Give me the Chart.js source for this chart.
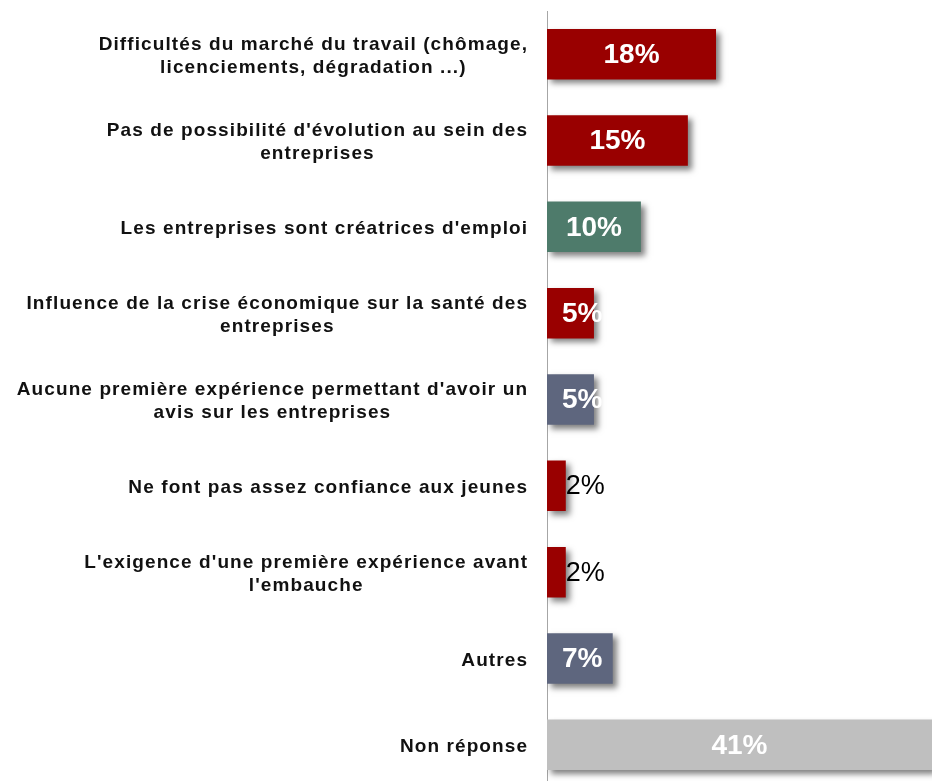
<!DOCTYPE html>
<html>
<head>
<meta charset="utf-8">
<script src="https://cdn.jsdelivr.net/npm/chart.js@4"></script>
<style>
  html, body { margin: 0; padding: 0; background: #fff; overflow: hidden; }
  #wrap { position: relative; width: 932px; height: 788px; }
</style>
</head>
<body>
<div id="wrap"><canvas id="reasonschart"></canvas></div>
<script>
const categories = [
  ["Difficultés du marché du travail (chômage,", "licenciements, dégradation ...)"],
  ["Pas de possibilité d'évolution au sein des", "entreprises"],
  ["Les entreprises sont créatrices d'emploi"],
  ["Influence de la crise économique sur la santé des", "entreprises"],
  ["Aucune première expérience permettant d'avoir un", "avis sur les entreprises"],
  ["Ne font pas assez confiance aux jeunes"],
  ["L'exigence d'une première expérience avant", "l'embauche"],
  ["Autres"],
  ["Non réponse"],
];
const values = [18, 15, 10, 5, 5, 2, 2, 7, 41];
const barColors = ["#990000", "#990000", "#4e7b6b", "#990000", "#5e667e", "#990000", "#990000", "#5e667e", "#bfbfbf"];

// soft drop shadow under the bars
const shadowPlugin = {
  id: "barShadow",
  beforeDatasetsDraw(chart) {
    const ctx = chart.ctx;
    ctx.save();
    ctx.shadowColor = "rgba(0,0,0,0.5)";
    ctx.shadowBlur = 6;
    ctx.shadowOffsetX = 4;
    ctx.shadowOffsetY = 4;
  },
  afterDatasetsDraw(chart) {
    chart.ctx.restore();
  },
};

// value labels inside bars, category labels on the left
const labelPlugin = {
  id: "labels",
  afterDatasetsDraw(chart) {
    const ctx = chart.ctx;
    const meta = chart.getDatasetMeta(0);
    ctx.save();
    ctx.textBaseline = "middle";
    meta.data.forEach((bar, i) => {
      const v = values[i];
      const txt = v + "%";
      if (v <= 2) {
        ctx.font = "27px 'Liberation Sans', Arial, sans-serif";
        ctx.fillStyle = "#000";
        ctx.textAlign = "left";
        ctx.fillText(txt, bar.x, bar.y + 1);
      } else {
        ctx.font = "bold 28px 'Liberation Sans', Arial, sans-serif";
        ctx.fillStyle = "#fff";
        ctx.textAlign = "center";
        const w = ctx.measureText(txt).width;
        const right = Math.min(bar.x, chart.width);
        const cx = Math.max((bar.base + right) / 2, bar.base + 15 + w / 2);
        ctx.fillText(txt, cx, bar.y + 1);
      }
    });

    const yScale = chart.scales.y;
    ctx.font = "bold 19px 'Liberation Sans', Arial, sans-serif";
    ctx.letterSpacing = "1.1px";
    ctx.fillStyle = "#111";
    ctx.textAlign = "left";
    const lineH = 23;
    categories.forEach((lines, i) => {
      const yc = yScale.getPixelForValue(i) + 2;
      const widths = lines.map((l) => ctx.measureText(l).width - 1.1);
      const maxW = Math.max(...widths);
      const cx = 527 - maxW / 2;
      const y0 = yc - ((lines.length - 1) * lineH) / 2;
      lines.forEach((l, k) => ctx.fillText(l, cx - widths[k] / 2, y0 + k * lineH));
    });
    ctx.restore();
  },
};

new Chart(document.getElementById("reasonschart"), {
  type: "bar",
  data: {
    labels: categories,
    datasets: [
      {
        data: values,
        backgroundColor: barColors,
        borderWidth: 0,
        categoryPercentage: 1,
        barPercentage: 0.585,
      },
    ],
  },
  options: {
    indexAxis: "y",
    responsive: true,
    maintainAspectRatio: false,
    animation: false,
    layout: { padding: { left: 539, top: 11, right: 0, bottom: 0 } },
    scales: {
      x: { display: false, min: 0, max: 41 },
      y: {
        ticks: { display: false },
        grid: { display: false },
        border: { display: true, color: "#a6a6a6", width: 1 },
      },
    },
    plugins: {
      legend: { display: false },
      tooltip: { enabled: false },
    },
  },
  plugins: [shadowPlugin, labelPlugin],
});
</script>
</body>
</html>
